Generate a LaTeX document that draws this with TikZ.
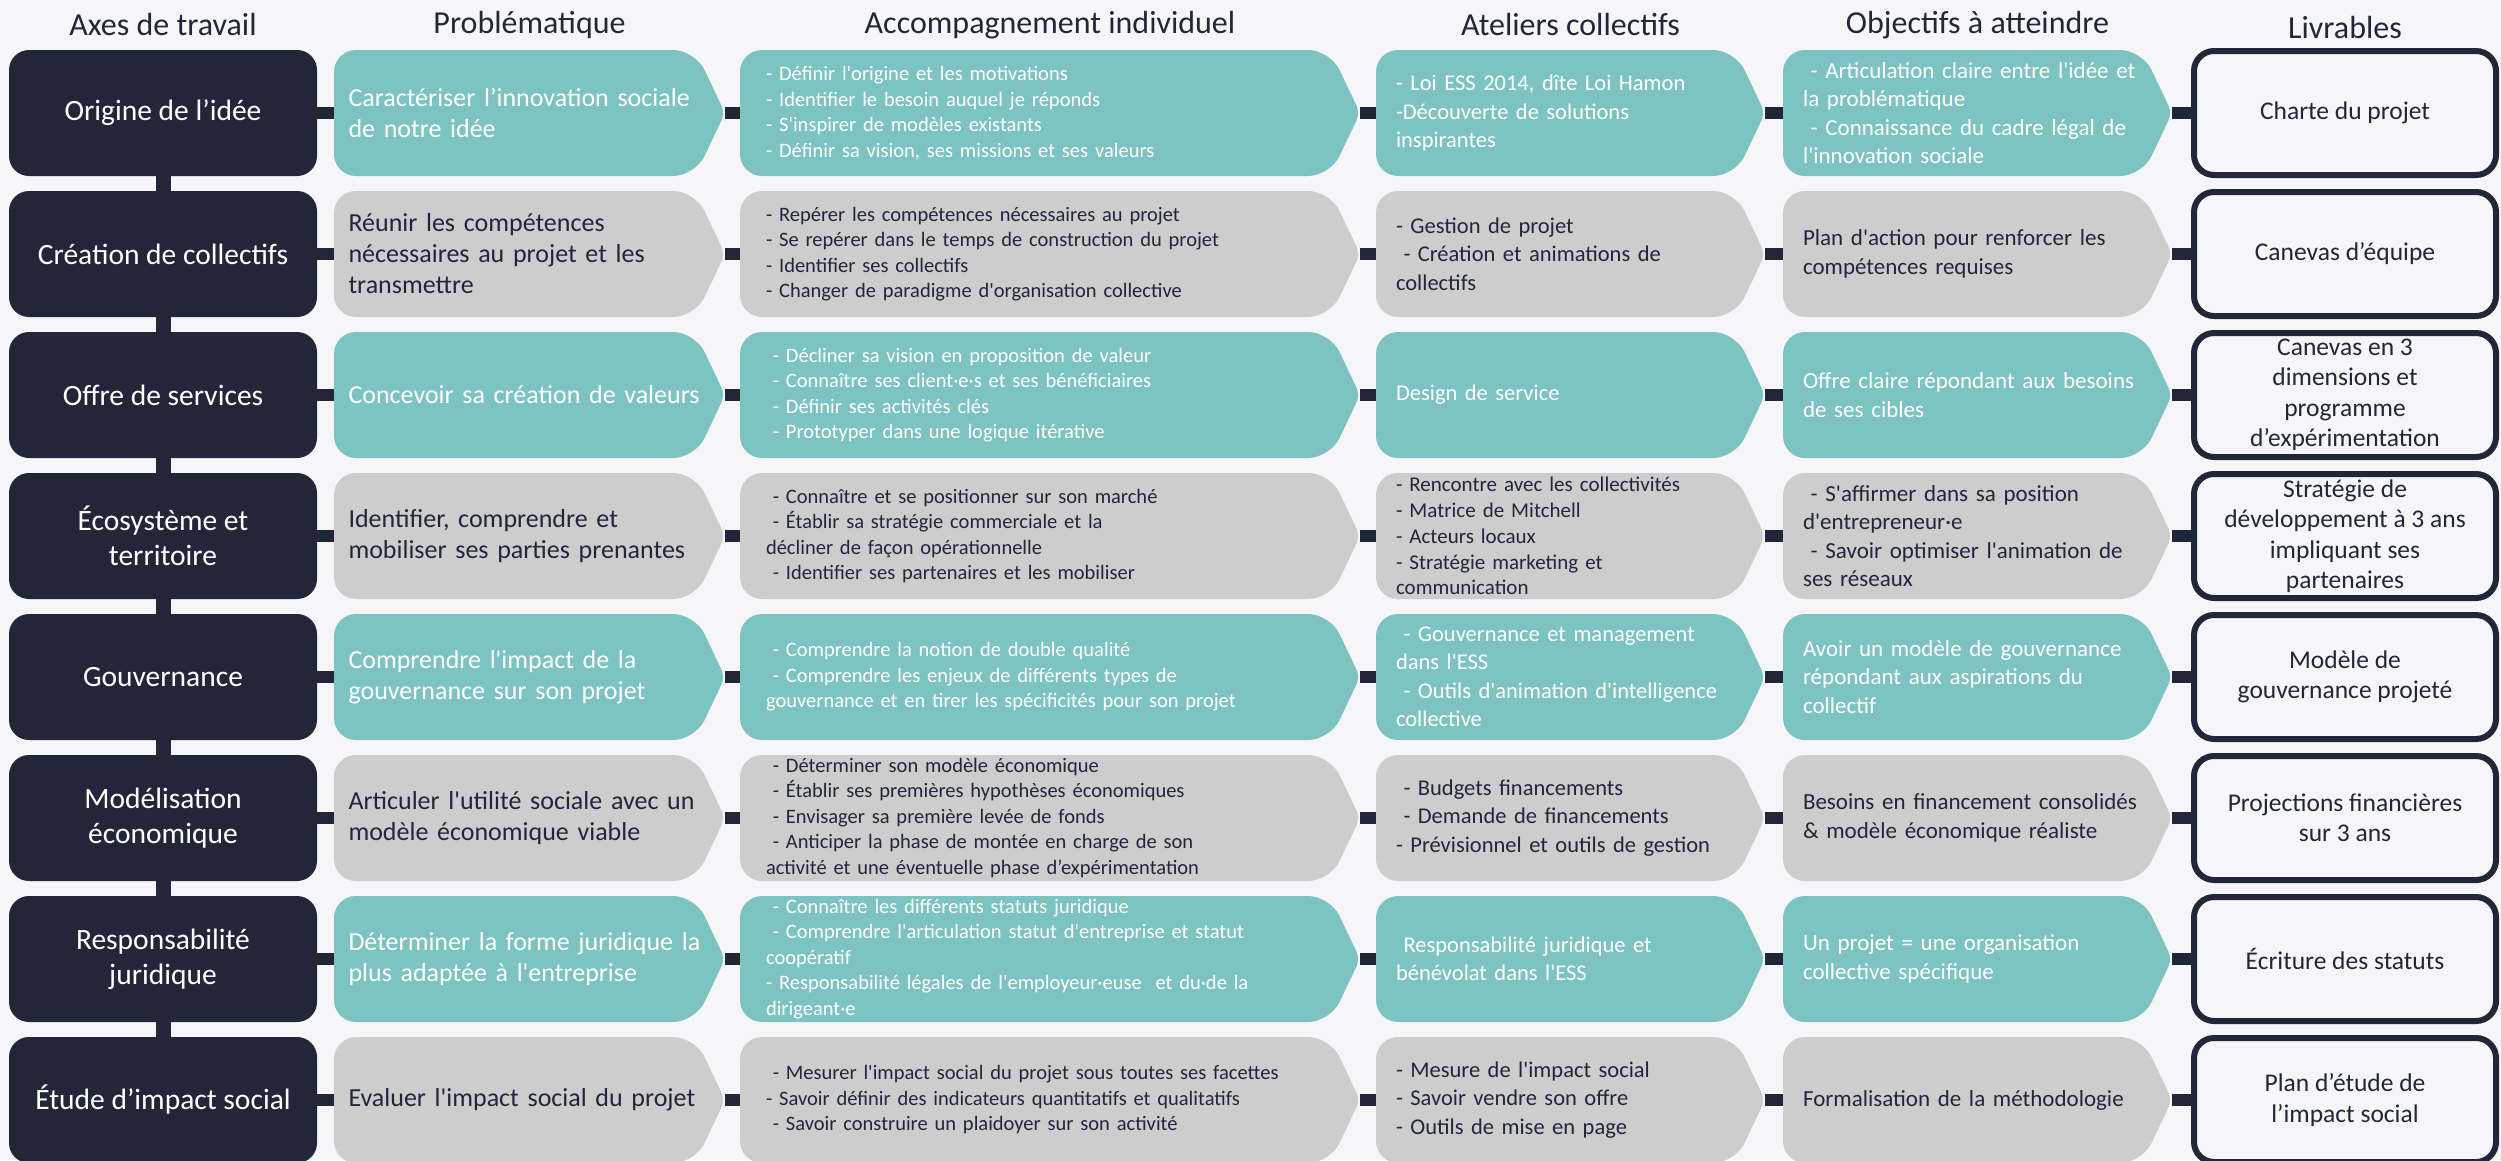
\documentclass[tikz,border=0pt]{standalone}
\usepackage{fontspec}
\setmainfont{Carlito}[Ligatures=TeXOff]
\definecolor{navy}{HTML}{212738}
\definecolor{tealc}{HTML}{7CC3C1}
\definecolor{greyc}{HTML}{CDCDCD}
\definecolor{bgc}{HTML}{F6F6F8}
\begin{document}
\begin{tikzpicture}[x=1pt, y=1pt, node distance=141pt,
  head/.style={text=navy, font=\fontsize{32}{36}\selectfont},
  axe/.style={fill=navy, text=white, rounded corners=20pt, minimum width=308pt, minimum height=126pt, inner ysep=0pt, align=center, font=\fontsize{29.5}{35}\selectfont},
  livr/.style={draw=navy, line width=6pt, fill=bgc, rounded corners=20pt, minimum width=302pt, minimum height=124pt, inner ysep=0pt, align=center, text=navy, font=\fontsize{25.5}{30.5}\selectfont},
  chev/.style={minimum height=126pt, inner ysep=0pt, align=left,
    path picture={\fill[#1, rounded corners=22pt] (path picture bounding box.north west)
      -- ([xshift=-30pt]path picture bounding box.north east) [rounded corners=8pt]
      -- (path picture bounding box.east) [rounded corners=22pt]
      -- ([xshift=-30pt]path picture bounding box.south east)
      -- (path picture bounding box.south west) -- cycle;}},
  tl/.style={chev=tealc, text=white},
  gr/.style={chev=greyc, text=navy},
  probl/.style={text width=362pt, inner xsep=14.5pt, font=\fontsize{26}{31}\selectfont},
  accomp/.style={text width=568pt, inner xsep=26pt, font=\fontsize{20.5}{25.5}\selectfont},
  atel/.style={text width=349pt, inner xsep=20pt, font=\fontsize{22.5}{28.5}\selectfont},
  objec/.style={text width=349pt, inner xsep=20pt, font=\fontsize{23}{28.3}\selectfont},
  link/.style={draw=navy, line width=12pt}]
  \useasboundingbox (0,0) rectangle (2501,-1160);
  \fill[bgc] (0,0) rectangle (2501,-1160);

  % axes de travail
  \node[axe] (a1) at (163,-113) {Origine de l’idée};
  \node[axe] (a2) [below of=a1] {Création de collectifs};
  \node[axe] (a3) [below of=a2] {Offre de services};
  \node[axe] (a4) [below of=a3] {Écosystème et\\territoire};
  \node[axe] (a5) [below of=a4] {Gouvernance};
  \node[axe] (a6) [below of=a5] {Modélisation\\économique};
  \node[axe] (a7) [below of=a6] {Responsabilité\\juridique};
  \node[axe] (a8) [below of=a7] {Étude d’impact social};

  % problematique
  \node[probl,tl] (p1) [right of=a1, node distance=366.5pt] {Caractériser l’innovation sociale\\de notre idée};
  \node[probl,gr] (p2) [below of=p1] {Réunir les compétences\\nécessaires au projet et les\\transmettre};
  \node[probl,tl] (p3) [below of=p2] {Concevoir sa création de valeurs};
  \node[probl,gr] (p4) [below of=p3] {Identifier, comprendre et\\mobiliser ses parties prenantes};
  \node[probl,tl] (p5) [below of=p4] {Comprendre l'impact de la\\gouvernance sur son projet};
  \node[probl,gr] (p6) [below of=p5] {Articuler l'utilité sociale avec un\\modèle économique viable};
  \node[probl,tl] (p7) [below of=p6] {Déterminer la forme juridique la\\plus adaptée à l'entreprise};
  \node[probl,gr] (p8) [below of=p7] {Evaluer l'impact social du projet};

  % accompagnement individuel
  \node[accomp,tl] (c1) [right of=p1, node distance=520.5pt] {- Définir l'origine et les motivations\\- Identifier le besoin auquel je réponds\\- S'inspirer de modèles existants\\- Définir sa vision, ses missions et ses valeurs};
  \node[accomp,gr] (c2) [below of=c1] {- Repérer les compétences nécessaires au projet\\- Se repérer dans le temps de construction du projet\\- Identifier ses collectifs\\- Changer de paradigme d'organisation collective};
  \node[accomp,tl] (c3) [below of=c2] {~- Décliner sa vision en proposition de valeur\\~- Connaître ses client·e·s et ses bénéficiaires\\~- Définir ses activités clés\\~- Prototyper dans une logique itérative};
  \node[accomp,gr] (c4) [below of=c3] {~- Connaître et se positionner sur son marché\\~- Établir sa stratégie commerciale et la\\décliner de façon opérationnelle\\~- Identifier ses partenaires et les mobiliser};
  \node[accomp,tl] (c5) [below of=c4] {~- Comprendre la notion de double qualité\\~- Comprendre les enjeux de différents types de\\gouvernance et en tirer les spécificités pour son projet};
  \node[accomp,gr] (c6) [below of=c5] {~- Déterminer son modèle économique\\~- Établir ses premières hypothèses économiques\\~- Envisager sa première levée de fonds\\~- Anticiper la phase de montée en charge de son\\activité et une éventuelle phase d’expérimentation};
  \node[accomp,tl] (c7) [below of=c6] {~- Connaître les différents statuts juridique\\~- Comprendre l'articulation statut d'entreprise et statut\\coopératif\\- Responsabilité légales de l'employeur·euse~ et du·de la\\dirigeant·e};
  \node[accomp,gr] (c8) [below of=c7] {~- Mesurer l'impact social du projet sous toutes ses facettes\\- Savoir définir des indicateurs quantitatifs et qualitatifs\\~- Savoir construire un plaidoyer sur son activité};

  % ateliers collectifs
  \node[atel,tl] (w1) [right of=c1, node distance=520.5pt] {- Loi ESS 2014, dîte Loi Hamon\\-Découverte de solutions\\inspirantes};
  \node[atel,gr] (w2) [below of=w1] {- Gestion de projet\\~- Création et animations de\\collectifs};
  \node[atel,tl] (w3) [below of=w2] {Design de service};
  \node[atel,gr,font=\fontsize{21}{25.8}\selectfont] (w4) [below of=w3] {- Rencontre avec les collectivités\\- Matrice de Mitchell\\- Acteurs locaux\\- Stratégie marketing et\\communication};
  \node[atel,tl] (w5) [below of=w4] {~- Gouvernance et management\\dans l'ESS\\~- Outils d'animation d'intelligence\\collective};
  \node[atel,gr] (w6) [below of=w5] {~- Budgets financements\\~- Demande de financements\\- Prévisionnel et outils de gestion};
  \node[atel,tl] (w7) [below of=w6] {~Responsabilité juridique et\\bénévolat dans l'ESS};
  \node[atel,gr] (w8) [below of=w7] {- Mesure de l'impact social\\- Savoir vendre son offre\\- Outils de mise en page};

  % objectifs a atteindre
  \node[objec,tl] (o1) [right of=w1, node distance=407pt] {~- Articulation claire entre l'idée et\\la problématique\\~- Connaissance du cadre légal de\\l'innovation sociale};
  \node[objec,gr] (o2) [below of=o1] {Plan d'action pour renforcer les\\compétences requises};
  \node[objec,tl] (o3) [below of=o2] {Offre claire répondant aux besoins\\de ses cibles};
  \node[objec,gr] (o4) [below of=o3] {~- S'affirmer dans sa position\\d'entrepreneur·e\\~- Savoir optimiser l'animation de\\ses réseaux};
  \node[objec,tl] (o5) [below of=o4] {Avoir un modèle de gouvernance\\répondant aux aspirations du\\collectif};
  \node[objec,gr] (o6) [below of=o5] {Besoins en financement consolidés\\\& modèle économique réaliste};
  \node[objec,tl] (o7) [below of=o6] {Un projet = une organisation\\collective spécifique};
  \node[objec,gr] (o8) [below of=o7] {Formalisation de la méthodologie};

  % livrables
  \node[livr] (l1) [right of=o1, node distance=367.5pt] {Charte du projet};
  \node[livr] (l2) [below of=l1] {Canevas d’équipe};
  \node[livr] (l3) [below of=l2] {Canevas en 3\\dimensions et\\programme\\d’expérimentation};
  \node[livr] (l4) [below of=l3] {Stratégie de\\développement à 3 ans\\impliquant ses\\partenaires};
  \node[livr] (l5) [below of=l4] {Modèle de\\gouvernance projeté};
  \node[livr] (l6) [below of=l5] {Projections financières\\sur 3 ans};
  \node[livr] (l7) [below of=l6] {Écriture des statuts};
  \node[livr] (l8) [below of=l7] {Plan d’étude de\\l’impact social};

  % titres
  \node[head] (h1) [above of=a1, node distance=88pt] {Axes de travail};
  \node[head] (h2) [above of=p1, node distance=88pt] {Problématique};
  \node[head] (h3) [above of=c1, node distance=88pt] {Accompagnement individuel};
  \node[head] (h4) [above of=w1, node distance=88pt] {Ateliers collectifs};
  \node[head] (h5) [above of=o1, node distance=88pt] {Objectifs à atteindre};
  \node[head] (h6) [above of=l1, node distance=85pt] {Livrables};

  \draw[link, line width=15pt] (a1) -- (a2) -- (a3) -- (a4) -- (a5) -- (a6) -- (a7) -- (a8);
  \draw[link] (a1) -- (p1) -- (c1) -- (w1) -- (o1) -- (l1);
  \draw[link] (a2) -- (p2) -- (c2) -- (w2) -- (o2) -- (l2);
  \draw[link] (a3) -- (p3) -- (c3) -- (w3) -- (o3) -- (l3);
  \draw[link] (a4) -- (p4) -- (c4) -- (w4) -- (o4) -- (l4);
  \draw[link] (a5) -- (p5) -- (c5) -- (w5) -- (o5) -- (l5);
  \draw[link] (a6) -- (p6) -- (c6) -- (w6) -- (o6) -- (l6);
  \draw[link] (a7) -- (p7) -- (c7) -- (w7) -- (o7) -- (l7);
  \draw[link] (a8) -- (p8) -- (c8) -- (w8) -- (o8) -- (l8);
\end{tikzpicture}
\end{document}
